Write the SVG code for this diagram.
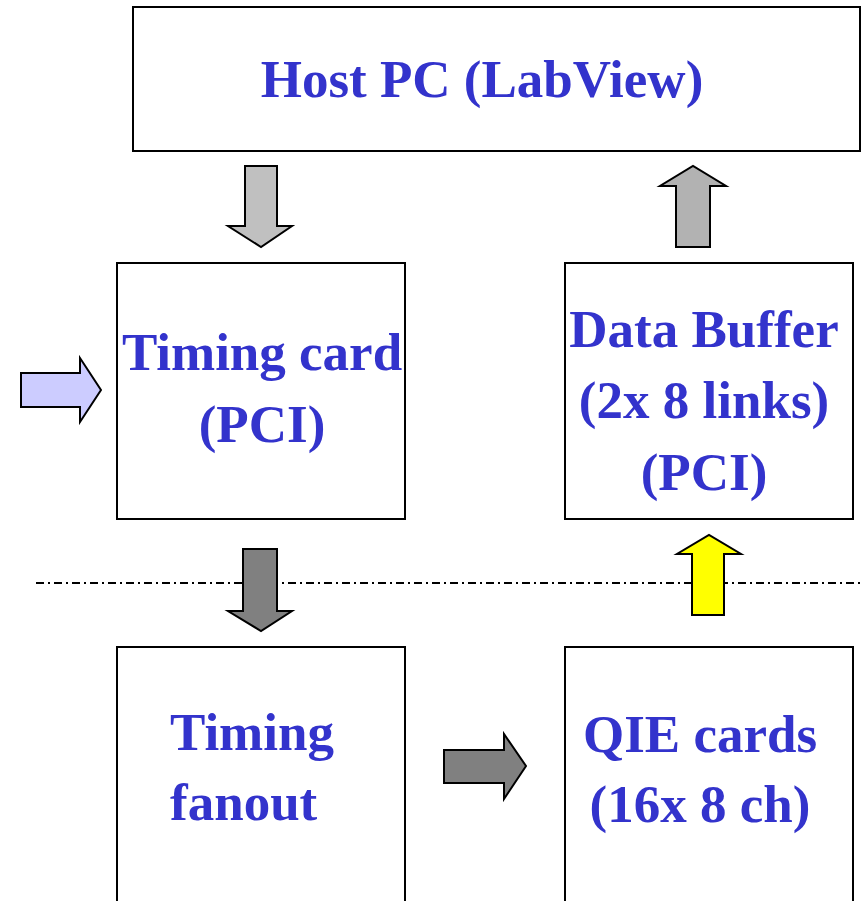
<svg xmlns="http://www.w3.org/2000/svg" width="864" height="901" viewBox="0 0 864 901">
<style>
.box{fill:#fff;stroke:#000;stroke-width:2}
.t{font-family:"Liberation Serif","Times New Roman",serif;font-weight:bold;font-size:53px;fill:#3333CC}
.m{text-anchor:middle}
.ar{stroke:#000;stroke-width:2;stroke-linejoin:miter}
</style>
<rect width="864" height="901" fill="#fff"/>
<line x1="36" y1="583" x2="862" y2="583" stroke="#000" stroke-width="2" stroke-dasharray="8,4,2,4"/>
<g id="host"><rect class="box" x="133" y="7" width="727" height="144"/><text class="t m" x="482" y="97">Host PC (LabView)</text></g>
<g id="timingcard"><rect class="box" x="117" y="263" width="288" height="256"/><text class="t m" x="262" y="370">Timing card</text><text class="t m" x="262" y="442">(PCI)</text></g>
<g id="databuffer"><rect class="box" x="565" y="263" width="288" height="256"/><text class="t m" x="704" y="347">Data Buffer</text><text class="t m" x="704" y="418">(2x 8 links)</text><text class="t m" x="704" y="490">(PCI)</text></g>
<g id="fanout"><rect class="box" x="117" y="647" width="288" height="260"/><text class="t" x="170" y="750">Timing</text><text class="t" x="170" y="820">fanout</text></g>
<g id="qie"><rect class="box" x="565" y="647" width="288" height="260"/><text class="t m" x="700" y="752">QIE cards</text><text class="t m" x="700" y="822">(16x 8 ch)</text></g>
<g id="connectors">
<polygon class="ar" fill="#CCCCFF" points="21,373 80,373 80,358 101,390 80,422 80,407 21,407"/>
<polygon class="ar" fill="#C0C0C0" points="245,166 277,166 277,226 292,226 261,247 228,226 245,226"/>
<polygon class="ar" fill="#B2B2B2" points="676,247 710,247 710,186 726,186 693,166 660,186 676,186"/>
<polygon class="ar" fill="#808080" points="243,549 277,549 277,611 292,611 261,631 228,611 243,611"/>
<polygon class="ar" fill="#FFFF00" points="692,615 724,615 724,554 741,554 709,535 677,554 692,554"/>
<polygon class="ar" fill="#808080" points="444,750 504,750 504,734 526,766 504,799 504,783 444,783"/>
</g>
</svg>
